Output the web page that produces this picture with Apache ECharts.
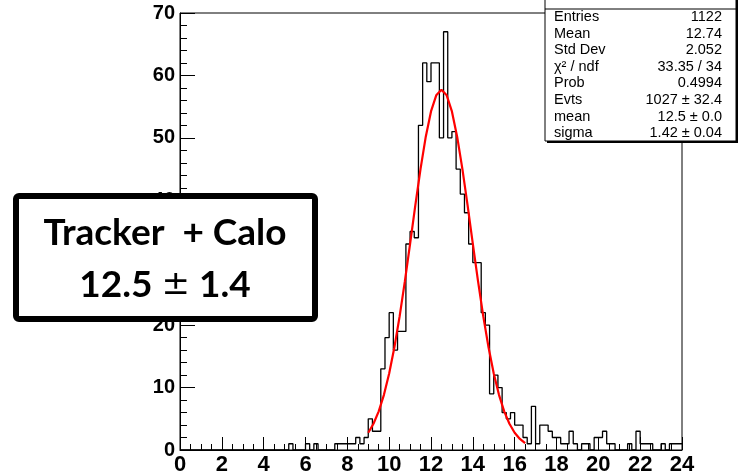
<!DOCTYPE html>
<html><head><meta charset="utf-8">
<script src="https://cdn.jsdelivr.net/npm/echarts/dist/echarts.min.js"></script>
<style>html,body{margin:0;padding:0;background:#fff}#c{width:744px;height:476px}</style>
</head><body><div id="c"></div>
<script>
// ---- data ----
const binStart = 0;
const binWidth = 0.2;
const counts = [
  0,0,0,0,0,0,0,0,0,0, 0,0,0,0,0,0,0,0,0,0,
  0,0,0,0,0,0,1,0,0,0, 1,0,1,0,0,0,0,1,1,1,
  1,1,2,1,2,5,3,3,13,18, 22,16,19,19,33,35,34,52,62,59,
  62,62,50,67,50,51,45,41,38,33, 30,30,22,20,9,12,10,6,5,6,
  4,4,2,1,7,1,4,4,3,2, 2,1,1,3,1,0,1,1,0,2,
  2,3,1,1,0,0,0,1,0,3, 1,1,1,0,0,1,0,1,1,1
];
const fitX = [9.0,9.25,9.5,9.75,10.0,10.25,10.5,10.75,11.0,11.25,11.5,11.75,12.0,12.25,12.5,
              12.75,13.0,13.25,13.5,13.75,14.0,14.25,14.5,14.75,15.0,15.25,15.5,15.75,16.0,16.25,16.5];
const fitY = [2.77,4.20,6.19,8.84,12.25,16.45,21.40,27.00,33.03,39.17,45.03,50.19,54.23,56.81,57.7,
              56.81,54.23,50.19,45.03,39.17,33.03,27.00,21.40,16.45,12.25,8.84,6.19,4.20,2.77,1.77,1.09];
const xMin = 0, xMax = 24, xStep = 2;
const yMin = 0, yMax = 70, yStep = 10;
const statsLabels = ['Entries','Mean','Std Dev','\u03c7\u00b2 / ndf','Prob','Evts','mean','sigma'];
const statsValues = ['1122','12.74','2.052','33.35 / 34','0.4994','1027 \u00b1 32.4','12.5 \u00b1 0.0','1.42 \u00b1 0.04'];
const boxTitle = 'Tracker  + Calo';
const boxMean = '12.5', boxPm = '\u00b1', boxSigma = '1.4';

// ---- build series data ----
const histData = counts.map((v, i) => [binStart + i * binWidth, v]);
histData.push([binStart + counts.length * binWidth, counts[counts.length - 1]]);
const fitData = fitX.map((x, i) => [x, fitY[i]]);

const chart = echarts.init(document.getElementById('c'), null, {renderer: 'canvas'});

const graphics = [];
// stats box
graphics.push({type:'rect', z:100, shape:{x:547, y:-3, width:191, height:146}, style:{fill:'#000', stroke:null}});
graphics.push({type:'rect', z:101, shape:{x:545, y:-5, width:191, height:146}, style:{fill:'#fff', stroke:'#000', lineWidth:1}});
graphics.push({type:'line', z:102, shape:{x1:545, y1:9, x2:736, y2:9}, style:{stroke:'#000', lineWidth:1}});
statsLabels.forEach((t, i) => {
  const y = 17 + i * 16.6;
  graphics.push({type:'text', z:103, style:{text:t, x:554, y:y, fill:'#000', font:'14.5px "Liberation Sans", Arial, sans-serif', textAlign:'left', textVerticalAlign:'middle'}});
  graphics.push({type:'text', z:103, style:{text:statsValues[i], x:722, y:y, fill:'#000', font:'14.5px "Liberation Sans", Arial, sans-serif', textAlign:'right', textVerticalAlign:'middle'}});
});
// annotation box
graphics.push({type:'rect', z:110, shape:{x:16, y:196, width:299, height:123, r:3}, style:{fill:'#fff', stroke:'#000', lineWidth:6}});
graphics.push({type:'text', z:111, style:{text:boxTitle, x:165, y:233, fill:'#000', font:'bold 37px Lato, "Open Sans", sans-serif', textAlign:'center', textVerticalAlign:'middle'}});
graphics.push({type:'text', z:111, style:{
  text:'{b|' + boxMean + ' }{n|' + boxPm + '}{b| ' + boxSigma + '}', x:165, y:285, textAlign:'center', textVerticalAlign:'middle',
  rich:{
    b:{fill:'#000', fontSize:37, fontWeight:'bold', fontFamily:'Lato, "Open Sans", sans-serif'},
    n:{fill:'#000', fontSize:34, fontWeight:'normal', fontFamily:'"DejaVu Sans", sans-serif'}
  }}});

chart.setOption({
  animation: false,
  backgroundColor: '#fff',
  grid: {left:180, right:62, top:13, bottom:23.5, show:true, borderColor:'#000', borderWidth:1, backgroundColor:'transparent'},
  xAxis: {
    type:'value', min:xMin, max:xMax, interval:xStep,
    axisLine:{show:true, onZero:false, lineStyle:{color:'#000', width:1}},
    axisTick:{show:true, inside:true, length:13, lineStyle:{color:'#000', width:1}},
    minorTick:{show:true, splitNumber:4, length:6, lineStyle:{color:'#000', width:1}},
    splitLine:{show:false},
    axisLabel:{color:'#000', fontSize:22, fontWeight:'bold', fontFamily:'"Liberation Sans", Arial, sans-serif', margin:4}
  },
  yAxis: {
    type:'value', min:yMin, max:yMax, interval:yStep,
    axisLine:{show:true, onZero:false, lineStyle:{color:'#000', width:1}},
    axisTick:{show:true, inside:true, length:15, lineStyle:{color:'#000', width:1}},
    minorTick:{show:true, splitNumber:5, length:7, lineStyle:{color:'#000', width:1}},
    splitLine:{show:false},
    axisLabel:{color:'#000', fontSize:20, fontWeight:'bold', fontFamily:'"Liberation Sans", Arial, sans-serif', margin:5}
  },
  series: [
    {type:'line', data:histData, step:'end', symbol:'none', lineStyle:{color:'#000', width:1.3}, z:2},
    {type:'line', data:fitData, smooth:false, symbol:'none', lineStyle:{color:'#ff0000', width:2.2}, z:3}
  ],
  graphic: graphics
});
</script></body></html>
